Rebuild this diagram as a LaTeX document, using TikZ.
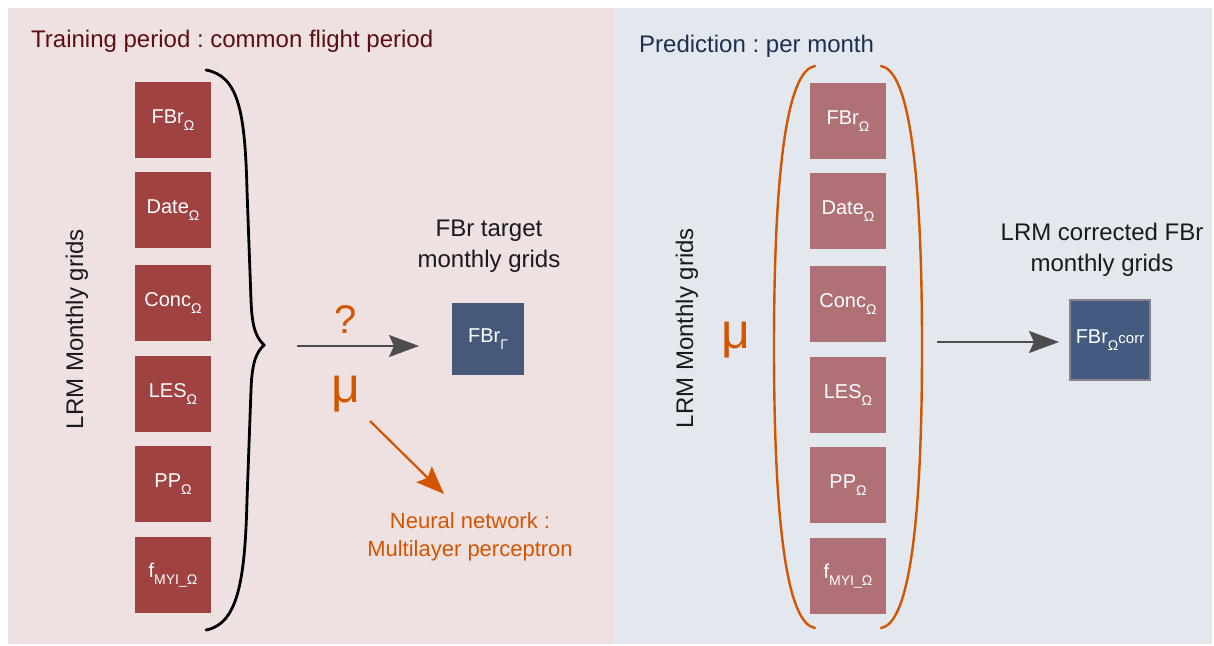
\documentclass[tikz,border=0pt]{standalone}
\usepackage{fontspec}
\setmainfont{Liberation Sans}
\usepackage{xcolor}
\usepackage{tikz}
\usetikzlibrary{arrows.meta}
\pgfdeclarelayer{nodelayer}
\pgfdeclarelayer{edgelayer}
\pgfsetlayers{nodelayer,edgelayer,main}
\frenchspacing

\definecolor{trainbg}{HTML}{EFE1E1}
\definecolor{predbg}{HTML}{E3E8EF}
\definecolor{gridred}{HTML}{A04142}
\definecolor{gridpink}{HTML}{B07176}
\definecolor{targetblue}{HTML}{47597A}
\definecolor{corrblue}{HTML}{435B7F}
\definecolor{corrframe}{HTML}{8C7D8F}
\definecolor{nnorange}{HTML}{D45500}
\definecolor{arrowgrey}{HTML}{4D4D4D}
\definecolor{traintitle}{HTML}{5B0F12}
\definecolor{predtitle}{HTML}{1E2F4F}
\definecolor{textblack}{HTML}{1A1A1A}

\newcommand{\pxfont}[2]{\fontsize{#1}{#2}\selectfont}
\newcommand{\subidx}[1]{\raisebox{-0.32em}{\pxfont{14}{14}#1}}

\tikzset{
  grid/.style={fill=gridred, text=white, minimum size=76pt, inner sep=0pt, font={\pxfont{20}{24}}},
  gridlight/.style={grid, fill=gridpink},
  target/.style={fill=targetblue, text=white, minimum size=72pt, inner sep=0pt, font={\pxfont{20}{24}}},
  corrbox/.style={target, fill=corrblue, draw=corrframe, line width=2pt, minimum size=80pt},
  heading/.style={anchor=base west, inner sep=0pt, font={\pxfont{24}{29}}},
  side/.style={rotate=90, inner sep=0pt, text=textblack, font={\pxfont{24}{29}}},
  caption/.style={align=center, inner sep=0pt, text=textblack, font={\pxfont{24}{31}}},
  symbol/.style={anchor=base, inner sep=0pt, text=nnorange},
  flow/.style={draw=arrowgrey, line width=2pt, -{Stealth[length=30pt, width=22pt, inset=5pt]}},
  learn/.style={draw=nnorange, line width=2.2pt, -{Stealth[length=28pt, width=22pt, inset=5pt]}},
  brace/.style={draw=black, line width=2.8pt, line cap=round},
  paren/.style={draw=nnorange, line width=2.4pt, line cap=round}
}

\begin{document}
\begin{tikzpicture}[x=1pt, y=-1pt]
  \useasboundingbox (0,0) rectangle (1214,645);
  \begin{pgfonlayer}{nodelayer}
    \fill [trainbg] (8,8) rectangle (613,644);
    \fill [predbg] (613,8) rectangle (1212,644);
    % training period
    \node [heading, text=traintitle] (0) at (31, 47) {Training period : common flight period};
    \node [side] (1) at (77, 329) {LRM Monthly grids};
    \node [grid] (2) at (173, 120) {FBr\subidx{Ω}};
    \node [grid] (3) at (173, 210) {Date\subidx{Ω}};
    \node [grid] (4) at (173, 303) {Conc\subidx{Ω}};
    \node [grid] (5) at (173, 394) {LES\subidx{Ω}};
    \node [grid] (6) at (173, 484) {PP\subidx{Ω}};
    \node [grid] (7) at (173, 575) {f\subidx{MYI\_Ω}};
    \node [symbol, font={\pxfont{40}{40}}] (8) at (346, 333) {?};
    \node [symbol, font={\pxfont{50}{50}}] (9) at (346, 402) {μ};
    \node [caption] (10) at (489, 246) {FBr target\\monthly grids};
    \node [target] (11) at (488, 339) {FBr\subidx{Γ}};
    \node [caption, text=nnorange, font={\pxfont{22}{28}}] (12) at (470, 537) {Neural network :\\Multilayer perceptron};
    \coordinate (13) at (297, 346);
    \coordinate (14) at (419, 346);
    \coordinate (15) at (370, 421);
    \coordinate (16) at (444, 494);
    % prediction
    \node [heading, text=predtitle] (17) at (639, 52) {Prediction : per month};
    \node [side] (18) at (687, 328) {LRM Monthly grids};
    \node [symbol, font={\pxfont{50}{50}}] (19) at (736, 348) {μ};
    \node [gridlight] (20) at (848, 121) {FBr\subidx{Ω}};
    \node [gridlight] (21) at (848, 211) {Date\subidx{Ω}};
    \node [gridlight] (22) at (848, 304) {Conc\subidx{Ω}};
    \node [gridlight] (23) at (848, 395) {LES\subidx{Ω}};
    \node [gridlight] (24) at (848, 485) {PP\subidx{Ω}};
    \node [gridlight] (25) at (848, 576) {f\subidx{MYI\_Ω}};
    \node [caption] (26) at (1102, 250) {LRM corrected FBr\\monthly grids};
    \node [corrbox] (27) at (1110, 340) {FBr\subidx{Ω}{\pxfont{15}{15}corr}};
    \coordinate (28) at (937, 342);
    \coordinate (29) at (1059, 342);
  \end{pgfonlayer}
  \begin{pgfonlayer}{edgelayer}
    \draw [brace] (206,70) .. controls (238,76) and (245,110) .. (247,190)
      -- (251,300) .. controls (252,330) and (257,338) .. (264,345)
      .. controls (257,352) and (252,360) .. (251,390)
      -- (247,500) .. controls (245,580) and (238,624) .. (206,630);
    \draw [flow] (13) to (14);
    \draw [learn] (15) to (16);
    \draw [paren] (815,66) .. controls (790,70) and (774,150) .. (774,347)
      .. controls (774,544) and (790,624) .. (815,628);
    \draw [paren] (881,66) .. controls (906,70) and (922,150) .. (922,347)
      .. controls (922,544) and (906,624) .. (881,628);
    \draw [flow] (28) to (29);
  \end{pgfonlayer}
\end{tikzpicture}
\end{document}
